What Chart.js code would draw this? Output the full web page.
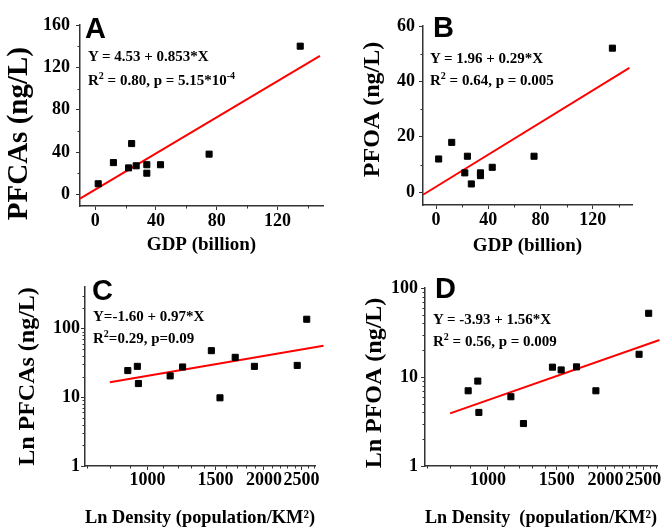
<!DOCTYPE html>
<html>
<head>
<meta charset="utf-8">
<script src="https://cdn.jsdelivr.net/npm/chart.js@4.4.0/dist/chart.umd.min.js"></script>
<style>
    html, body { margin: 0; padding: 0; background: #fff; }
    #wrap { position: relative; width: 665px; height: 529px; overflow: hidden; }
    #wrap canvas { position: absolute; }
    .lbl { position: absolute; font: bold 29px 'Liberation Sans', Arial, sans-serif; line-height: 28px; color: #000; }
    .eq { position: absolute; font: bold 15px 'Liberation Serif', 'Times New Roman', serif; color: #000; white-space: nowrap; }
    .eq sup { font-size: 10px; line-height: 0; vertical-align: 6px; }
</style>
</head>
<body>
<div id="wrap">
    <canvas id="cA" width="332" height="262" style="left:0;top:0"></canvas>
    <canvas id="cB" width="333" height="262" style="left:332px;top:0"></canvas>
    <canvas id="cC" width="332" height="267" style="left:0;top:262px"></canvas>
    <canvas id="cD" width="333" height="267" style="left:332px;top:262px"></canvas>

    <div class="lbl" style="left:85px;top:14px">A</div>
    <div class="eq" style="left:88px;top:44px;line-height:24px">Y = 4.53 + 0.853*X<br>R<sup>2</sup> = 0.80, p = 5.15*10<sup>-4</sup></div>

    <div class="lbl" style="left:433px;top:13px">B</div>
    <div class="eq" style="left:430px;top:47px;line-height:22px">Y = 1.96 + 0.29*X<br>R<sup>2</sup> = 0.64, p = 0.005</div>

    <div class="lbl" style="left:92px;top:276px">C</div>
    <div class="eq" style="left:93px;top:305px;line-height:22px">Y=-1.60 + 0.97*X<br>R<sup>2</sup>=0.29, p=0.09</div>

    <div class="lbl" style="left:435px;top:274px">D</div>
    <div class="eq" style="left:433px;top:308px;line-height:22px">Y = -3.93 + 1.56*X<br>R<sup>2</sup> = 0.56, p = 0.009</div>
</div>

<script>
// ---- data ----
var gdp = [2, 12, 22, 24, 27, 34, 34, 43, 75, 135];
var pfcasByGdp = [10, 30, 25, 48, 27, 28, 20, 28, 38, 140];
var pfoaByGdp = [12, 18, 7, 13, 3, 7, 6, 9, 13, 52];

var density = [890, 942, 948, 1145, 1233, 1463, 1540, 1686, 1890, 2438, 2580];
var pfcasByDensity = [24.4, 28.1, 15.8, 20.4, 27.5, 47.5, 9.8, 38, 28.1, 29, 136];
var pfoaByDensity = [7, 9, 4, 6, 3, 12.9, 12, 13, 7, 18, 52];

// regression line end points
var fitGdpX = [-10, 148];
var fitPfcasGdpY = [-4, 130.8];
var fitPfoaGdpY = [-0.9, 44.9];
var fitDensityCX = [800, 2850];
var fitPfcasDensityY = [16.5, 56];
var fitDensityDX = [800, 2750];
var fitPfoaDensityY = [3.9, 26];

// tick values
var gdpTicks = [0, 40, 80, 120];
var gdpMinor = [20, 60, 100, 140];
var pfcasTicks = [0, 40, 80, 120, 160];
var pfcasMinor = [20, 60, 100, 140];
var pfoaTicks = [0, 20, 40, 60];
var pfoaMinor = [10, 30, 50];
var densityTicks = [1000, 1500, 2000, 2500];
var densityMinor = [700, 800, 900, 1100, 1200, 1300, 1400, 1600, 1700, 1800, 1900, 2100, 2200, 2300, 2400, 2600, 2700];
var logTicks = [1, 10, 100];
var logMinorC = [2, 3, 4, 5, 6, 7, 8, 9, 20, 30, 40, 50, 60, 70, 80, 90, 200, 300];
var logMinorD = [2, 3, 4, 5, 6, 7, 8, 9, 20, 30, 40, 50, 60, 70, 80, 90];

var AXIS = '#333333';
var SERIF = "'Liberation Serif', 'Times New Roman', serif";

Chart.defaults.font.family = SERIF;
Chart.defaults.font.weight = 'bold';
Chart.defaults.color = '#000';

// short minor ticks, placed with the chart's own scales
var minorTicks = {
    id: 'minorTicks',
    afterDraw: function(chart, args, opts) {
        var ctx = chart.ctx;
        var area = chart.chartArea;
        ctx.save();
        ctx.strokeStyle = AXIS;
        ctx.lineWidth = 1;
        ctx.beginPath();
        (opts.x || []).forEach(function(v) {
            var px = Math.round(chart.scales.x.getPixelForValue(v)) + 0.5;
            ctx.moveTo(px, area.bottom);
            ctx.lineTo(px, area.bottom + 2.5);
        });
        (opts.y || []).forEach(function(v) {
            var py = Math.round(chart.scales.y.getPixelForValue(v)) + 0.5;
            ctx.moveTo(area.left, py);
            ctx.lineTo(area.left - 2.5, py);
        });
        ctx.stroke();
        ctx.restore();
    }
};

function pairs(xs, ys) {
    return xs.map(function(x, i) { return { x: x, y: ys[i] }; });
}

function axis(o) {
    var isX = o.dir === 'x';
    return {
        type: o.type,
        position: isX ? 'bottom' : 'left',
        min: o.min,
        max: o.max,
        afterBuildTicks: function(scale) {
            scale.ticks = o.ticks.map(function(v) { return { value: v }; });
        },
        afterFit: function(scale) {
            if (isX) scale.height = o.size; else scale.width = o.size;
        },
        border: { display: true, color: AXIS, width: 1.5 },
        grid: { drawOnChartArea: false, drawTicks: true, tickLength: 4, color: AXIS, lineWidth: 1 },
        ticks: {
            autoSkip: false,
            minRotation: 0,
            maxRotation: 0,
            padding: o.pad,
            font: { size: 18, weight: 'bold' },
            color: '#000',
            callback: function(v) { return String(v); }
        },
        title: {
            display: true,
            text: o.title,
            color: '#000',
            font: { size: o.titleSize, weight: 'bold', lineHeight: 1 },
            padding: isX ? { top: 0, bottom: o.titlePad } : { top: o.titlePad, bottom: 0 }
        }
    };
}

function makePanel(id, p) {
    var ctx = document.getElementById(id).getContext('2d');
    return new Chart(ctx, {
        type: 'scatter',
        data: {
            datasets: [
                {
                    data: pairs(p.xs, p.ys),
                    pointStyle: 'rect',
                    pointRadius: 4.3,
                    backgroundColor: '#000',
                    borderColor: '#000',
                    borderWidth: 1
                },
                {
                    data: pairs(p.fitX, p.fitY),
                    showLine: true,
                    pointRadius: 0,
                    borderColor: '#ff0000',
                    borderWidth: 2,
                    clip: false
                }
            ]
        },
        options: {
            responsive: false,
            animation: false,
            devicePixelRatio: 1,
            layout: { padding: p.padding },
            plugins: {
                legend: { display: false },
                tooltip: { enabled: false },
                minorTicks: { x: p.minorX, y: p.minorY }
            },
            scales: { x: p.x, y: p.y }
        },
        plugins: [minorTicks]
    });
}

makePanel('cA', {
    xs: gdp, ys: pfcasByGdp, fitX: fitGdpX, fitY: fitPfcasGdpY,
    minorX: gdpMinor, minorY: pfcasMinor,
    padding: { left: 0, top: 25, right: 9, bottom: 0 },
    x: axis({ dir: 'x', type: 'linear', min: -10, max: 150, ticks: gdpTicks, size: 56, pad: 1,
              title: 'GDP (billion)', titleSize: 19, titlePad: 7.5 }),
    y: axis({ dir: 'y', type: 'linear', min: -11, max: 160, ticks: pfcasTicks, size: 80, pad: 6,
              title: 'PFCAs (ng/L)     ', titleSize: 29, titlePad: 5.5 })
});

makePanel('cB', {
    xs: gdp, ys: pfoaByGdp, fitX: fitGdpX, fitY: fitPfoaGdpY,
    minorX: gdpMinor, minorY: pfoaMinor,
    padding: { left: 0, top: 26, right: 33, bottom: 0 },
    x: axis({ dir: 'x', type: 'linear', min: -10, max: 150, ticks: gdpTicks, size: 57, pad: 1,
              title: 'GDP (billion)', titleSize: 19, titlePad: 6.5 }),
    y: axis({ dir: 'y', type: 'linear', min: -4.6, max: 60, ticks: pfoaTicks, size: 91, pad: 4,
              title: '  PFOA (ng/L)', titleSize: 24, titlePad: 28.5 })
});

makePanel('cC', {
    xs: density, ys: pfcasByDensity, fitX: fitDensityCX, fitY: fitPfcasDensityY,
    minorX: densityMinor, minorY: logMinorC,
    padding: { left: 0, top: 25, right: 17, bottom: 0 },
    x: axis({ dir: 'x', type: 'logarithmic', min: 690, max: 2710, ticks: densityTicks, size: 63, pad: 0,
              title: 'Ln Density (population/KM²)', titleSize: 19, titlePad: 1.5 }),
    y: axis({ dir: 'y', type: 'logarithmic', min: 1, max: 400, ticks: logTicks, size: 85, pad: 1,
              title: 'Ln PFCAs (ng/L)', titleSize: 24, titlePad: 16 })
});

makePanel('cD', {
    xs: density, ys: pfoaByDensity, fitX: fitDensityDX, fitY: fitPfoaDensityY,
    minorX: densityMinor, minorY: logMinorD,
    padding: { left: 0, top: 26, right: 8, bottom: 0 },
    x: axis({ dir: 'x', type: 'logarithmic', min: 690, max: 2710, ticks: densityTicks, size: 63, pad: 0,
              title: 'Ln Density  (population/KM²)', titleSize: 19, titlePad: 1.5 }),
    y: axis({ dir: 'y', type: 'logarithmic', min: 1, max: 100, ticks: logTicks, size: 93, pad: 3,
              title: 'Ln PFOA (ng/L)  ', titleSize: 24, titlePad: 31 })
});
</script>
</body>
</html>
